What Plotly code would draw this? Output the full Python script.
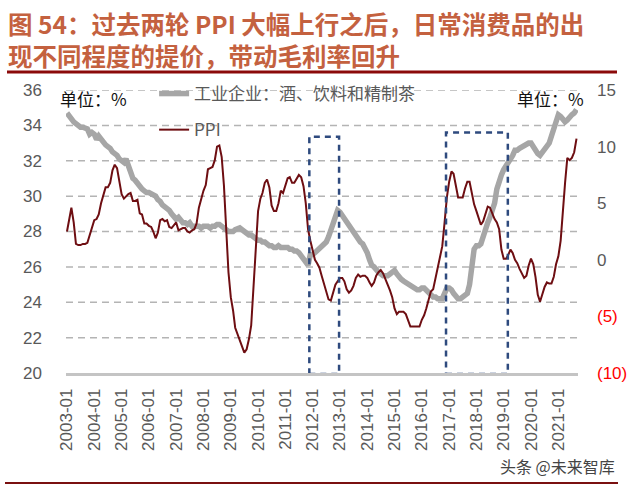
import pandas as pd
import plotly.graph_objects as go

# ---------------- data ----------------
start_month = "2003-01-01"

ppi = [
    2.5, 3.7, 4.6, 3.3, 1.4, 1.3, 1.3, 1.4, 1.4, 1.5, 2.2, 2.9,
    3.5, 3.6, 4.0, 5.0, 5.7, 6.4, 6.4, 6.8, 7.9, 8.4, 8.1, 7.1,
    5.8, 5.4, 5.6, 5.8, 5.9, 5.2, 5.2, 5.3, 4.1, 4.0, 3.2, 3.2,
    3.0, 2.9, 2.5, 1.9, 2.4, 3.5, 3.6, 3.4, 3.5, 2.9, 2.8, 3.1,
    3.3, 2.6, 2.7, 2.8, 2.8, 2.5, 2.4, 2.6, 2.7, 3.2, 4.6, 5.4,
    6.1, 6.6, 8.0, 8.1, 8.2, 8.8, 10.0, 10.1, 9.1, 6.6, 2.0, -1.1,
    -3.3, -4.5, -6.0, -6.6, -7.2, -7.8, -8.2, -7.9, -7.0, -5.8, -2.1, 1.7,
    4.3, 5.4, 5.9, 6.8, 7.1, 6.4, 4.8, 4.3, 4.3, 5.0, 6.1, 5.9,
    6.6, 7.2, 7.3, 6.8, 6.8, 7.1, 7.5, 7.3, 6.5, 5.0, 2.7, 1.7,
    0.7, 0.0, -0.3, -0.7, -1.4, -2.1, -2.9, -3.5, -3.6, -2.8, -2.2, -1.9,
    -1.6, -1.6, -1.9, -2.6, -2.9, -2.7, -2.3, -1.6, -1.3, -1.5, -1.4, -1.4,
    -1.6, -2.0, -2.3, -2.0, -1.4, -1.1, -0.9, -1.2, -1.8, -2.2, -2.7, -3.3,
    -4.3, -4.8, -4.6, -4.6, -4.6, -4.8, -5.4, -5.9, -5.9, -5.9, -5.9, -5.9,
    -5.3, -4.9, -4.3, -3.4, -2.8, -2.6, -1.7, -0.8, 0.1, 1.2, 3.3, 5.5,
    6.9, 7.8, 7.6, 6.4, 5.5, 5.5, 5.5, 6.3, 6.9, 6.9, 5.8, 4.9,
    4.3, 3.7, 3.1, 3.4, 4.1, 4.7, 4.6, 4.1, 3.6, 3.3, 2.7, 0.9,
    0.1, 0.1, 0.4, 0.9, 0.6, 0.0, -0.3, -0.8, -1.2, -1.6, -1.4, -0.5,
    0.1, -0.4, -1.5, -3.1, -3.7, -3.0, -2.4, -2.0, -2.1, -2.1, -1.5, -0.4,
    0.3, 1.7, 4.4, 6.8, 9.0, 8.8, 9.0, 9.5, 10.7,
]

margin = [
    34.7, 34.5, 34.3, 34.2, 34.1, 34.0, 33.9, 33.9, 33.8, 33.8, 33.5, 33.6,
    33.5, 33.2, 33.4, 33.2, 33.0, 32.9, 32.8, 32.7, 32.5, 32.4, 32.3, 32.1,
    32.0, 31.9, 32.1, 31.7, 31.4, 31.0, 30.9, 30.7, 30.6, 30.4, 30.3, 30.2,
    30.2, 30.1, 30.1, 30.0, 29.8, 29.7, 29.5, 29.4, 29.3, 29.2, 29.0, 28.9,
    28.7, 28.8, 28.7, 28.5, 28.5, 28.4, 28.5, 28.3, 28.3, 28.3, 28.3, 28.2,
    28.3, 28.3, 28.3, 28.2, 28.3, 28.3, 28.4, 28.4, 28.3, 28.2, 28.1, 28.0,
    28.0, 28.0, 28.1, 28.2, 28.2, 28.1, 28.0, 27.9, 27.8, 27.8, 27.7, 27.6,
    27.5, 27.5, 27.4, 27.4, 27.3, 27.2, 27.2, 27.1, 27.1, 27.2, 27.1, 27.1,
    27.1, 27.1, 27.0, 27.0, 26.9, 26.9, 26.8, 26.6, 26.4, 26.2, 26.1, 26.7,
    26.7, 26.8, 26.9, 27.0, 27.1, 27.3, 27.4, 27.7, 28.1, 28.4, 28.8, 29.2,
    29.1, 28.9, 28.7, 28.5, 28.3, 28.1, 27.9, 27.7, 27.5, 27.4, 27.3, 27.1,
    26.8, 26.4, 26.1, 26.0, 25.8, 25.7, 25.6, 25.5, 25.5, 25.5, 25.6, 25.7,
    25.8, 25.6, 25.4, 25.3, 25.2, 25.1, 25.0, 24.9, 24.8, 24.8, 24.7, 24.7,
    24.8, 24.8, 24.7, 24.5, 24.4, 24.3, 24.3, 24.2, 24.2, 24.2, 24.5, 24.8,
    24.8, 24.7, 24.5, 24.3, 24.2, 24.2, 24.3, 24.4, 24.5, 25.0, 26.0, 27.0,
    27.2, 27.2, 27.3, 27.8, 28.2, 28.5, 28.8, 29.3, 29.6, 30.4, 30.9, 31.2,
    31.5, 31.7, 31.8, 32.0, 32.3, 32.6, 32.6, 32.7, 32.8, 32.8, 32.9, 33.0,
    33.0, 32.8, 32.5, 32.4, 32.3, 32.5, 32.7, 32.8, 33.0, 33.4, 33.9, 34.4,
    34.6, 34.5, 34.3, 34.2, 34.3, 34.5, 34.6, 34.7, 34.9,
]

months = pd.date_range(start_month, periods=len(ppi), freq="MS")

margin_name = "工业企业：酒、饮料和精制茶"
ppi_name = "PPI"

left_ticks = [20, 22, 24, 26, 28, 30, 32, 34, 36]
right_tickvals = [-10, -5, 0, 5, 10, 15]
right_ticktext = ["<span style='color:#FF0000'>(10)</span>",
                  "<span style='color:#FF0000'>(5)</span>", "0", "5", "10", "15"]

title_line1 = "图 54：过去两轮 PPI 大幅上行之后，日常消费品的出"
title_line2 = "现不同程度的提价，带动毛利率回升"
unit_text = "单位：%"
watermark = "头条 @未来智库"

# highlighted periods (dashed boxes)
boxes = [
    ("2011-11-18", "2012-12-20", 33.35),
    ("2016-11-20", "2019-02-25", 33.6),
]

# ---------------- figure ----------------
W, H = 629, 486
ML, MR, MT, MB = 66, 51, 90, 113
PW, PH = W - ML - MR, H - MT - MB


def px2paper_x(px):
    return (px - ML) / PW


def px2paper_y(py):
    return (H - MB - py) / PH


fig = go.Figure()
fig.add_trace(go.Scatter(
    x=months, y=margin, name=margin_name, mode="lines",
    line=dict(color="#A6A6A6", width=5.5), legendgroup="a", yaxis="y"))
fig.add_trace(go.Scatter(
    x=months, y=ppi, name=ppi_name, mode="lines",
    line=dict(color="#6E0E12", width=2), legendgroup="b", yaxis="y2"))

shapes = []
# dashed horizontal grid at each left-axis tick (20 is the solid axis line)
for v in left_ticks[1:]:
    shapes.append(dict(type="line", xref="x", yref="y",
                       x0="2002-12-19", x1="2021-09-21", y0=v, y1=v,
                       line=dict(color="#B4B4B4", width=1.5, dash="7px,5px"),
                       layer="between"))
for x0, x1, ytop in boxes:
    shapes.append(dict(type="rect", xref="x", yref="y", x0=x0, x1=x1, y0=19.95, y1=ytop,
                       line=dict(color="#2E4A7E", width=2.5, dash="6px,5px"),
                       fillcolor="rgba(0,0,0,0)", layer="above"))
# title underline and bottom rule
shapes.append(dict(type="line", xref="paper", yref="paper",
                   x0=px2paper_x(7), x1=px2paper_x(617),
                   y0=px2paper_y(72), y1=px2paper_y(72),
                   line=dict(color="#8B0A0A", width=3)))
shapes.append(dict(type="line", xref="paper", yref="paper",
                   x0=px2paper_x(5), x1=px2paper_x(618),
                   y0=px2paper_y(483), y1=px2paper_y(483),
                   line=dict(color="#7A1010", width=2)))

title_font = dict(family="Noto Sans CJK SC, Liberation Sans, sans-serif",
                  size=24.5, color="#C4613F")
annotations = [
    dict(text="<b>" + title_line1 + "</b>", xref="paper", yref="paper",
         x=px2paper_x(6), y=px2paper_y(24), xanchor="left", yanchor="middle",
         showarrow=False, font=title_font),
    dict(text="<b>" + title_line2 + "</b>", xref="paper", yref="paper",
         x=px2paper_x(6), y=px2paper_y(55), xanchor="left", yanchor="middle",
         showarrow=False, font=title_font),
    dict(text=unit_text, xref="paper", yref="paper",
         x=px2paper_x(58), y=px2paper_y(98), xanchor="left", yanchor="middle",
         showarrow=False, font=dict(family="Noto Sans CJK SC, sans-serif", size=17, color="#111111")),
    dict(text=unit_text, xref="paper", yref="paper",
         x=px2paper_x(586), y=px2paper_y(98), xanchor="right", yanchor="middle",
         showarrow=False, font=dict(family="Noto Sans CJK SC, sans-serif", size=17, color="#111111")),
    dict(text=watermark, xref="paper", yref="paper",
         x=px2paper_x(617), y=px2paper_y(466), xanchor="right", yanchor="middle",
         showarrow=False, font=dict(family="Noto Sans CJK SC, sans-serif", size=16, color="#444444")),
]

tick_font = dict(family="Liberation Sans, Arial, sans-serif", size=17, color="#595959")

fig.update_layout(
    width=W, height=H,
    margin=dict(l=ML, r=MR, t=MT, b=MB, pad=0, autoexpand=False),
    paper_bgcolor="white", plot_bgcolor="white",
    showlegend=True,
    legend=dict(xref="container", yref="container", x=0.245, y=1 - 76 / H,
                xanchor="left", yanchor="top", bgcolor="rgba(0,0,0,0)",
                font=dict(family="Noto Sans CJK SC, Liberation Sans, sans-serif", size=17, color="#595959"),
                tracegroupgap=11, itemwidth=30),
    xaxis=dict(type="date", range=["2002-12-19", "2021-09-21"],
               tick0="2003-01-01", dtick="M12", tickformat="%Y-%m",
               tickangle=-90, tickfont=tick_font, ticks="",
               showgrid=False, showline=True, linecolor="#C4C4C4", linewidth=2.5,
               ticklabelstandoff=6, zeroline=False, automargin=False),
    yaxis=dict(range=[20, 36], tickvals=left_ticks, tickfont=tick_font,
               showgrid=False, zeroline=False, showline=False, ticks="",
               ticklabelstandoff=23, automargin=False),
    yaxis2=dict(range=[-10, 15], tickvals=right_tickvals, ticktext=right_ticktext,
                overlaying="y", side="right", tickfont=tick_font,
                showgrid=False, zeroline=False, showline=False, ticks="",
                ticklabelstandoff=18, automargin=False),
    shapes=shapes,
    annotations=annotations,
)

fig.write_html("out.html", config={"displayModeBar": False},
               post_script="document.body.style.margin='0';")
